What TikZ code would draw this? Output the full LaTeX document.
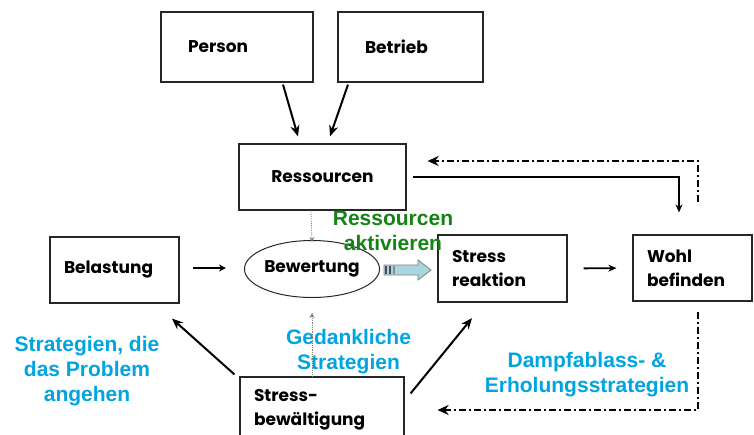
\documentclass[tikz,border=0pt]{standalone}
\usepackage{fontspec}
\setmainfont{Liberation Sans}
\newfontfamily\boxfont{Poppins}
\usetikzlibrary{arrows.meta,shapes.geometric,calc}
\definecolor{lblue}{RGB}{0,164,224}
\definecolor{lgreen}{RGB}{20,130,20}
\definecolor{arrfill}{RGB}{168,214,222}
\begin{document}
\begin{tikzpicture}[x=1pt,y=-1pt,
  box/.style={draw=black!85, line width=1.2pt, align=left, inner ysep=0pt,
    font=\boxfont\bfseries\fontsize{17}{24}\selectfont},
  lab/.style={align=center, font=\bfseries\fontsize{21}{25}\selectfont},
  arr/.style={line width=2pt, -{Stealth[length=11pt,width=9pt]}},
  sarr/.style={line width=1.8pt, -{Stealth[length=8pt,width=7pt]}},
  dd/.style={line width=2.2pt, dash pattern=on 7pt off 3pt on 2pt off 3pt, -{Stealth[length=11pt,width=10pt]}},
  dot/.style={gray, line width=0.8pt, densely dotted, -{Stealth[length=5pt,width=5pt]}},
  fatarrow/.style={draw=gray, fill=arrfill, line width=0.8pt}]
\useasboundingbox (0,0) rectangle (754,434);
\begin{scope}
\clip (0,0) rectangle (754,434);
\node[box, text width=98pt, inner xsep=27pt, minimum height=70pt] (person) at (237,47) {Person};
\node[box, text width=91pt, inner xsep=27pt, minimum height=70pt] (betrieb) at (410.5,47) {Betrieb};
\node[box, text width=133pt, inner xsep=17pt, minimum height=66pt, align=center] (ress) at (322.5,177) {Ressourcen};
\node[box, text width=101pt, inner xsep=14pt, minimum height=66pt] (bel) at (114.5,270) {Belastung};
\node[draw=black!85, line width=1pt, ellipse, minimum width=130pt, minimum height=57pt, inner sep=0pt,
  font=\boxfont\bfseries\fontsize{17}{24}\selectfont] (bew) at (312,269) {Bewertung};
\node[box, text width=101pt, inner xsep=14pt, minimum height=67pt] (stress) at (502.5,268.5) {Stress\\reaktion};
\node[box, text width=91pt, inner xsep=14pt, minimum height=66pt] (wohl) at (692.5,268) {Wohl\\befinden};
\node[box, text width=136pt, inner xsep=14pt, minimum height=66pt] (sb) at (322,410) {Stress-\\bewältigung};
\end{scope}

\node[lab, text=lgreen] (l1) at (393,231) {Ressourcen\\aktivieren};
\node[lab, text=lblue] (l2) at (348.5,351.5) {Gedankliche\\Strategien};
\node[lab, text=lblue] (l3) at (87,371.5) {Strategien, die\\das Problem\\angehen};
\node[lab, text=lblue] (l4) at (587,374.5) {Dampfablass- \&\\Erholungsstrategien};

% arrows
\draw[arr] ([xshift=46pt,yshift=-2pt]person.south) -- ([xshift=-24.5pt,yshift=7pt]ress.north);
\draw[arr] ([xshift=-62.5pt,yshift=-2pt]betrieb.south) -- ([xshift=7.5pt,yshift=7pt]ress.north);
\draw[line width=1.5pt, -{Stealth[length=8pt,width=7pt]}, shorten <=6pt, shorten >=22pt] (ress.east) -| ([xshift=-13.5pt]wohl.north);
\draw[dd, shorten <=32pt, shorten >=21pt] ([xshift=5.5pt]wohl.north) |- ([yshift=16pt]ress.east);
\draw[sarr, -{Stealth[length=7pt,width=7pt]}, shorten <=13pt, shorten >=18pt] ([yshift=2pt]bel.east) -- ([yshift=1pt]bew.west);
\draw[sarr, shorten <=16pt, shorten >=16pt] (stress.east) -- ([yshift=0.5pt]stress.east -| wohl.west);
\draw[arr] ([xshift=-5pt,yshift=2pt]sb.north west) -- ([xshift=57.5pt,yshift=-15pt]bel.south);
\draw[arr] ([xshift=6pt,yshift=-17pt]sb.north east) -- ([xshift=-30.5pt,yshift=-15.5pt]stress.south);
\draw[dot] ([xshift=-10pt]sb.north) -- ([yshift=-15pt]bew.south);
\draw[dot] ([xshift=-11.5pt]ress.south) -- ([yshift=-2pt]bew.north);
\draw[dd, shorten <=10pt, shorten >=33pt] ([xshift=5.5pt]wohl.south) |- (sb.east);
% fat arrow Bewertung -> Stress reaktion
\begin{scope}[shift={(bew.east)}]
\draw[fatarrow] (4,-4) -- (38,-4) -- (38,-9) -- (51,1) -- (38,11) -- (38,6) -- (4,6) -- cycle;
\fill[black!70] (5,-3) rectangle (7,5);
\fill[black!70] (9,-3) rectangle (11,5);
\fill[black!45] (13,-3) rectangle (14.5,5);
\end{scope}
\end{tikzpicture}
\end{document}
